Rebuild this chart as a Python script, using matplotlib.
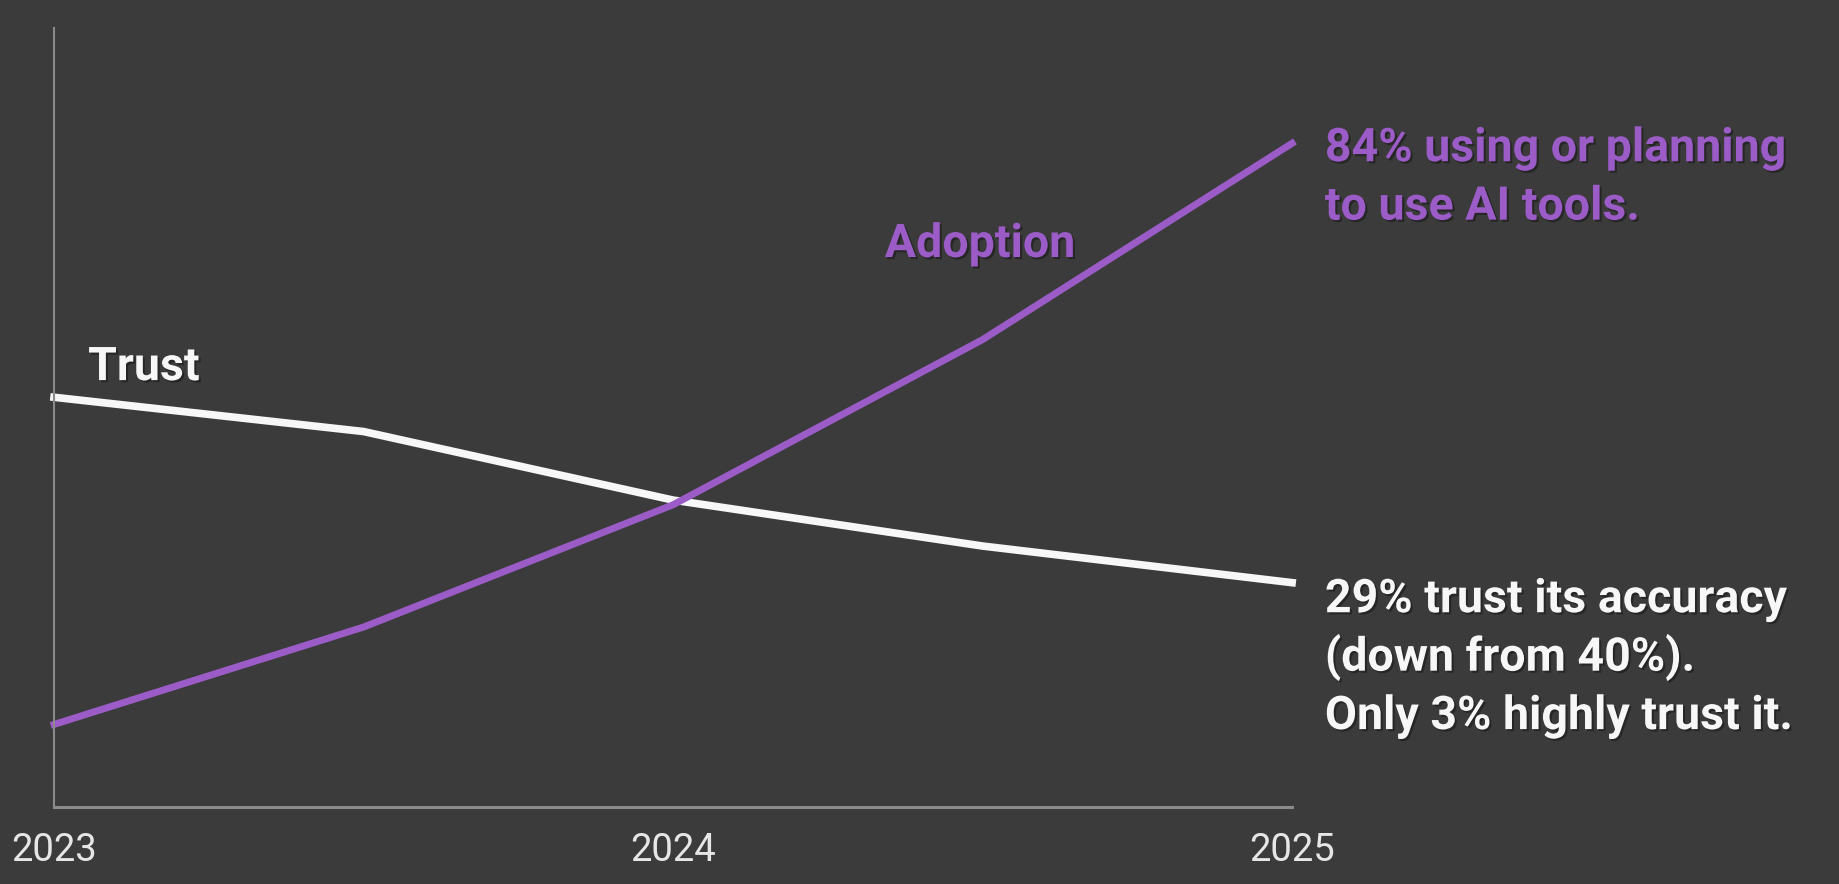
import matplotlib
matplotlib.use("Agg")
import matplotlib.pyplot as plt
import matplotlib.patheffects as pe

# values (0-100 scale of the plot height)
years = [2023, 2023.5, 2024, 2024.5, 2025]
trust = [52.6, 48.2, 39.4, 33.5, 28.8]
adoption = [10.6, 23.1, 38.8, 60.0, 85.2]
tick_years = [2023, 2024, 2025]
tick_labels = ["2023", "2024", "2025"]

adoption_note = ["84% using or planning", "to use AI tools."]
trust_note = ["29% trust its accuracy", "(down from 40%).", "Only 3% highly trust it."]

bg = "#3b3b3b"
purple = "#9b5cc8"
white = "#f7f7f7"
fam = "Roboto"
shadow = [pe.withSimplePatchShadow(offset=(1.5, -1.5), shadow_rgbFace="black", alpha=0.35)]

fig = plt.figure(figsize=(18.39, 8.84), dpi=100, facecolor=bg)
ax = fig.add_axes([0.0294, 0.0871, 0.6732, 0.8812])
ax.set_facecolor(bg)

ax.plot(years, trust, color=white, lw=5.5, solid_joinstyle="round", clip_on=False)
ax.plot(years, adoption, color=purple, lw=5, solid_joinstyle="round", clip_on=False)

ax.set_xlim(2023, 2025)
ax.set_ylim(0, 100)
ax.set_yticks([])
ax.set_xticks(tick_years)
ax.set_xticklabels(tick_labels, family=fam, fontsize=27.5, color="#e6e6e6")
ax.tick_params(axis="x", length=0, pad=18)

for side in ["top", "right"]:
    ax.spines[side].set_visible(False)
ax.spines["left"].set_color("#8a8a8a")
ax.spines["left"].set_linewidth(1.5)
ax.spines["bottom"].set_color("#8a8a8a")
ax.spines["bottom"].set_linewidth(2.2)

bold = dict(family=fam, fontsize=33.5, fontweight="bold", va="baseline",
            ha="left", clip_on=False, path_effects=shadow)

ax.text(2023.055, 54.8, "Trust", color=white, **bold)
ax.text(2024.342, 70.6, "Adoption", color=purple, **bold)

for i, line in enumerate(adoption_note):
    ax.text(2025.053, 82.9 - i * 7.5, line, color=purple, **bold)
for i, line in enumerate(trust_note):
    ax.text(2025.053, 25.0 - i * 7.5, line, color=white, **bold)

fig.savefig("out.png", dpi=100, facecolor=bg)
